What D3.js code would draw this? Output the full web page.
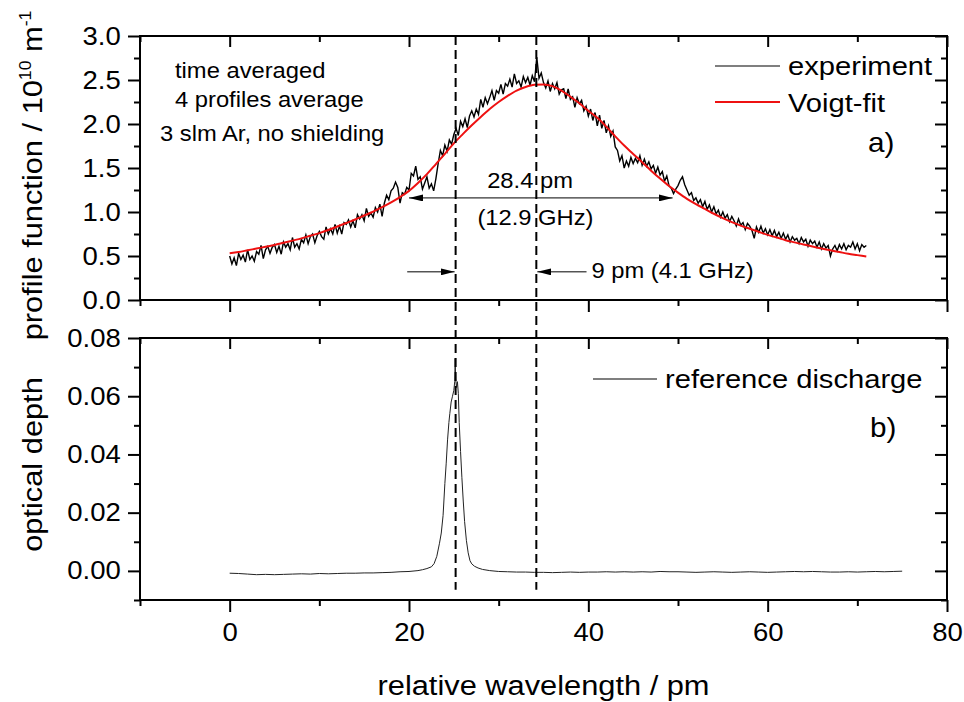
<!DOCTYPE html>
<html><head><meta charset="utf-8">
<script src="https://cdn.jsdelivr.net/npm/d3@7"></script>
<style>
body{margin:0;background:#fff}
text{font-family:"Liberation Sans",Arial,Helvetica,sans-serif;fill:#000}
</style>
</head><body>
<svg id="chart" width="964" height="702"></svg>
<script>
// ---------- data ----------
// experiment: sampled every 0.25 pm from 0 pm
const expStart = 0, expStep = 0.25;
const expValues = [
0.50,0.41,0.48,0.39, 0.53,0.46,0.51,0.43, 0.57,0.46,0.50,0.44, 0.55,0.52,0.62,0.47,
0.57,0.61,0.53,0.60, 0.63,0.54,0.61,0.52, 0.66,0.60,0.64,0.57, 0.71,0.60,0.64,0.58,
0.69,0.65,0.74,0.64, 0.72,0.75,0.65,0.73, 0.78,0.72,0.69,0.83, 0.75,0.81,0.75,0.86,
0.76,0.84,0.75,0.88, 0.86,0.91,0.83,0.90, 0.82,0.97,0.92,0.97, 0.90,1.04,0.95,0.99,
0.94,1.05,1.00,1.09, 0.95,1.10,1.19,1.14, 1.24,1.27,1.34,1.28, 1.10,1.22,1.20,1.28,
1.25,1.44,1.41,1.52, 1.37,1.40,1.26,1.33, 1.40,1.27,1.32,1.24, 1.38,1.55,1.70,1.64,
1.76,1.69,1.82,1.77, 1.88,1.95,1.87,2.03, 1.97,2.06,1.96,2.09, 2.15,2.08,2.17,2.11,
2.28,2.19,2.30,2.23, 2.30,2.38,2.27,2.38, 2.35,2.45,2.34,2.46, 2.43,2.51,2.42,2.57,
2.46,2.49,2.42,2.54, 2.47,2.53,2.44,2.55, 2.48,2.76,2.52,2.58, 2.47,2.41,2.49,2.37,
2.46,2.40,2.47,2.34, 2.39,2.40,2.29,2.40, 2.28,2.31,2.19,2.30, 2.23,2.27,2.15,2.20,
2.09,2.17,2.04,2.13, 1.98,2.10,1.95,2.04, 1.90,1.98,1.86,1.92, 1.74,1.70,1.58,1.64,
1.50,1.58,1.52,1.62, 1.55,1.61,1.56,1.64, 1.53,1.60,1.52,1.57, 1.49,1.53,1.44,1.51,
1.42,1.46,1.35,1.41, 1.30,1.27,1.21,1.26, 1.30,1.36,1.40,1.31, 1.25,1.19,1.22,1.13,
1.16,1.10,1.14,1.06, 1.12,1.03,1.08,1.00, 1.06,0.98,1.02,0.94, 1.00,0.93,0.97,0.89,
0.95,0.90,0.84,0.92, 0.85,0.88,0.80,0.87, 0.84,0.79,0.70,0.83, 0.77,0.84,0.76,0.81,
0.74,0.80,0.73,0.79, 0.72,0.77,0.70,0.76, 0.69,0.74,0.66,0.72, 0.68,0.70,0.64,0.71,
0.66,0.69,0.61,0.68, 0.64,0.67,0.60,0.66, 0.58,0.64,0.59,0.62, 0.50,0.58,0.62,0.56,
0.63,0.58,0.64,0.57, 0.62,0.60,0.66,0.58, 0.64,0.56,0.63,0.60, 0.62
];
// Voigt fit: sampled every 1 pm from 0 pm
const fitStart = 0, fitStep = 1;
const fitValues = [
0.53,0.545,0.565,0.585,0.605,0.625,0.65,0.675,0.70,0.73,
0.76,0.795,0.835,0.875,0.915,0.96,1.005,1.055,1.11,1.17,
1.24,1.33,1.43,1.545,1.66,1.78,1.885,1.985,2.08,2.17,
2.25,2.32,2.38,2.42,2.445,2.45,2.43,2.38,2.31,2.235,
2.15,2.07,1.97,1.86,1.755,1.66,1.565,1.47,1.38,1.295,
1.22,1.15,1.09,1.035,0.98,0.93,0.885,0.845,0.81,0.775,
0.74,0.71,0.68,0.655,0.63,0.607,0.585,0.565,0.545,0.525,
0.51,0.495
];
// reference discharge optical depth
const refX = [0,1,2,3,4,5,6,7,8,9,10,11,12,13,14,15,16,17,18,19,20,21,21.5,22,22.5,22.8,23.1,23.4,23.6,23.8,
24.0,24.15,24.3,24.45,24.55,24.7,24.85,25.0,25.1,25.15,25.2,25.3,25.4,25.5,25.6,25.75,25.9,26.05,26.2,26.4,
26.6,26.8,27.0,27.3,27.7,28.2,29,30,31,32,33,34,35,36,37,38,39,40,41,42,43,44,45,46,47,48,49,50,
51,52,53,54,55,56,57,58,59,60,61,62,63,64,65,66,67,68,69,70,71,72,73,74,75];
const refY = [-0.0008,-0.0009,-0.0011,-0.0013,-0.0012,-0.0013,-0.0012,-0.0011,-0.0010,-0.0011,-0.0009,-0.0010,-0.0009,-0.0008,-0.0008,-0.0007,-0.0007,-0.0006,-0.0005,-0.0003,
-0.0002,0.0001,0.0004,0.0008,0.0014,0.0025,0.0050,0.0095,0.013,0.019,
0.030,0.037,0.045,0.051,0.054,0.058,0.060,0.062,0.065,0.073,0.066,0.063,0.065,0.061,0.051,0.041,0.032,0.024,0.017,0.0105,
0.0062,0.0035,0.0024,0.0016,0.0010,0.0005,0.0001,-0.0002,-0.0003,-0.0004,-0.0004,-0.0005,-0.0005,-0.0006,-0.0005,-0.0004,-0.0005,-0.0004,-0.0004,-0.0003,-0.0004,-0.0003,-0.0004,-0.0003,-0.0004,-0.0002,-0.0003,-0.0003,
-0.0004,-0.0005,-0.0004,-0.0003,-0.0004,-0.0005,-0.0004,-0.0003,-0.0004,-0.0005,-0.0004,-0.0003,-0.0002,-0.0003,-0.0002,-0.0003,-0.0004,-0.0004,-0.0003,-0.0004,-0.0003,-0.0002,-0.0003,-0.0002,-0.0001];

const xMajorTicks = [0,20,40,60,80];
const xMinorTicks = [-10,10,30,50,70];
const topMajorTicks = [0,0.5,1,1.5,2,2.5,3];
const topMinorTicks = [0.25,0.75,1.25,1.75,2.25,2.75];
const botMajorTicks = [0,0.02,0.04,0.06,0.08];
const botMinorTicks = [-0.01,0.01,0.03,0.05,0.07];
const peakLines = [25.2, 34.2];   // dashed marker positions (pm)
const fwhmFrom = 20.0, fwhmTo = 49.4, fwhmLevel = 1.16;
const shiftLevel = 0.32;
const infoLines = ["time averaged","4 profiles average","3 slm Ar, no shielding"];

// ---------- layout ----------
const X0 = 140, X1 = 947, T0 = 36, T1 = 300, B0 = 338, B1 = 600;
const S = 1.1; // horizontal text stretch
const svg = d3.select("#chart");

const x = d3.scaleLinear([-10, 80], [X0, X1]);
const yTop = d3.scaleLinear([0, 3], [T1, T0]);
const yBot = d3.scaleLinear([-0.01, 0.08], [B1, B0]);

const defs = svg.append("defs");
defs.append("marker").attr("id","ah").attr("viewBox","0 0 14 7").attr("refX",14).attr("refY",3.5)
  .attr("markerWidth",14).attr("markerHeight",7).attr("markerUnits","userSpaceOnUse")
  .attr("orient","auto-start-reverse")
  .append("path").attr("d","M0,0L14,3.5L0,7Z").attr("fill","#000");

function txt(parent, px, py, str, size, anchor, stretch) {
  return parent.append("text")
    .attr("transform", `translate(${px},${py}) scale(${stretch||S},1)`)
    .attr("font-size", size).attr("text-anchor", anchor||"start").text(str);
}

// ---------- data lines ----------
const expData = expValues.map((v,i)=>[expStart + i*expStep, v]);
const fitData = fitValues.map((v,i)=>[fitStart + i*fitStep, v]);
const refData = refX.map((v,i)=>[v, refY[i]]);

svg.append("path").datum(expData)
  .attr("d", d3.line().x(d=>x(d[0])).y(d=>yTop(d[1])))
  .attr("fill","none").attr("stroke","#000").attr("stroke-width",1.4);
svg.append("path").datum(fitData)
  .attr("d", d3.line().x(d=>x(d[0])).y(d=>yTop(d[1])).curve(d3.curveMonotoneX))
  .attr("fill","none").attr("stroke","#ee1111").attr("stroke-width",2);
svg.append("path").datum(refData)
  .attr("d", d3.line().x(d=>x(d[0])).y(d=>yBot(d[1])))
  .attr("fill","none").attr("stroke","#222").attr("stroke-width",1);

// ---------- axes ----------
function styleAxis(g) {
  g.select(".domain").remove();
  g.selectAll(".tick line").attr("stroke","#000").attr("stroke-width",2);
  g.attr("font-family",null).attr("font-size",null);
}
function frame(y, top, bottom, major, minor, fmt, showX) {
  const gl = svg.append("g").attr("transform",`translate(${X0},0)`)
    .call(d3.axisLeft(y).tickValues(major).tickSize(12).tickPadding(5.5).tickFormat(fmt));
  styleAxis(gl);
  gl.selectAll(".tick text").attr("font-size",25).attr("transform",`scale(${S},1)`);
  styleAxis(svg.append("g").attr("transform",`translate(${X0},0)`)
    .call(d3.axisLeft(y).tickValues(minor).tickSize(6).tickFormat("")));
  styleAxis(svg.append("g").attr("transform",`translate(${X1},0)`)
    .call(d3.axisLeft(y).tickValues(major).tickSize(12).tickFormat("")));
  styleAxis(svg.append("g").attr("transform",`translate(${X1},0)`)
    .call(d3.axisLeft(y).tickValues(minor).tickSize(6).tickFormat("")));
  styleAxis(svg.append("g").attr("transform",`translate(0,${top})`)
    .call(d3.axisBottom(x).tickValues(xMajorTicks).tickSize(11).tickFormat("")));
  styleAxis(svg.append("g").attr("transform",`translate(0,${top})`)
    .call(d3.axisBottom(x).tickValues(xMinorTicks).tickSize(6).tickFormat("")));
  const gb = svg.append("g").attr("transform",`translate(0,${bottom})`)
    .call(d3.axisBottom(x).tickValues(xMajorTicks).tickSize(12).tickPadding(11)
      .tickFormat(showX ? d3.format("d") : ""));
  styleAxis(gb);
  gb.selectAll(".tick text").attr("font-size",25).attr("transform",`scale(${S},1)`);
  styleAxis(svg.append("g").attr("transform",`translate(0,${bottom})`)
    .call(d3.axisBottom(x).tickValues(xMinorTicks).tickSize(6).tickFormat("")));
  svg.append("rect").attr("x",X0).attr("y",top).attr("width",X1-X0).attr("height",bottom-top)
    .attr("fill","none").attr("stroke","#000").attr("stroke-width",2);
}
frame(yTop, T0, T1, topMajorTicks, topMinorTicks, d3.format(".1f"), false);
frame(yBot, B0, B1, botMajorTicks, botMinorTicks, d3.format(".2f"), true);

// ---------- dashed marker lines ----------
svg.selectAll("line.peak").data(peakLines).join("line").attr("class","peak")
  .attr("x1",d=>x(d)).attr("x2",d=>x(d)).attr("y1",yTop(3)).attr("y2",yBot(-0.0065))
  .attr("stroke","#000").attr("stroke-width",2).attr("stroke-dasharray","9,5");

// ---------- annotations ----------
svg.append("line").attr("x1",x(fwhmFrom)).attr("x2",x(fwhmTo))
  .attr("y1",yTop(fwhmLevel)).attr("y2",yTop(fwhmLevel))
  .attr("stroke","#000").attr("stroke-width",1)
  .attr("marker-start","url(#ah)").attr("marker-end","url(#ah)");
svg.append("line").attr("x1",x(19.8)).attr("x2",x(peakLines[0])-1)
  .attr("y1",yTop(shiftLevel)).attr("y2",yTop(shiftLevel))
  .attr("stroke","#000").attr("stroke-width",1).attr("marker-end","url(#ah)");
svg.append("line").attr("x1",x(39.8)).attr("x2",x(peakLines[1])+1)
  .attr("y1",yTop(shiftLevel)).attr("y2",yTop(shiftLevel))
  .attr("stroke","#000").attr("stroke-width",1).attr("marker-end","url(#ah)");

txt(svg, x(33.5), yTop(1.27), "28.4 pm", 22, "middle", 1.08);
txt(svg, x(34.1), yTop(0.85), "(12.9 GHz)", 22, "middle", 1.08);
txt(svg, x(40.35), yTop(0.25), "9 pm (4.1 GHz)", 22, "start", 1.08);

txt(svg, 175, 78, infoLines[0], 22, "start", 1.08);
txt(svg, 175, 107, infoLines[1], 22, "start", 1.08);
txt(svg, 160, 141, infoLines[2], 22, "start", 1.08);

// legends
svg.append("line").attr("x1",715).attr("x2",780).attr("y1",66).attr("y2",66).attr("stroke","#000").attr("stroke-width",1.2);
txt(svg, 788, 75, "experiment", 26.5);
svg.append("line").attr("x1",715).attr("x2",780).attr("y1",102).attr("y2",102).attr("stroke","#ee1111").attr("stroke-width",2);
txt(svg, 788, 111.5, "Voigt-fit", 26.5);
txt(svg, 868, 152, "a)", 27);

svg.append("line").attr("x1",593).attr("x2",657).attr("y1",379).attr("y2",379).attr("stroke","#000").attr("stroke-width",1.2);
txt(svg, 665, 388, "reference discharge", 26.5);
txt(svg, 870, 437, "b)", 27);

// axis titles
txt(svg, (X0+X1)/2, 695, "relative wavelength / pm", 28, "middle");
svg.append("text").attr("transform",`translate(42,464.5) rotate(-90) scale(${S},1)`)
  .attr("font-size",28).attr("text-anchor","middle").text("optical depth");
const yt = svg.append("text").attr("transform",`translate(41.5,175.5) rotate(-90) scale(${S},1)`)
  .attr("font-size",28).attr("text-anchor","middle");
yt.append("tspan").text("profile function / 10");
yt.append("tspan").attr("font-size",16).attr("dy",-11).text("10");
yt.append("tspan").attr("dy",11).text(" m");
yt.append("tspan").attr("font-size",16).attr("dy",-11).text("-1");
</script>
</body></html>
